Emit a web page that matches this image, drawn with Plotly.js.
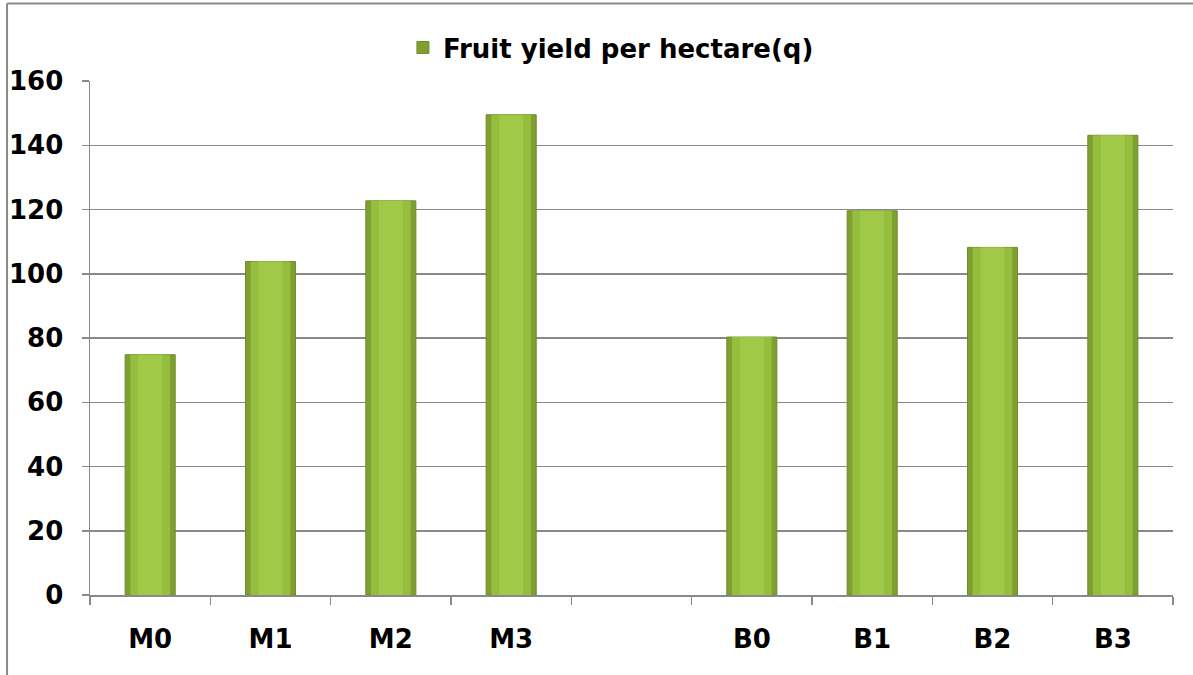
<!DOCTYPE html>
<html>
<head>
<meta charset="utf-8">
<script src="https://cdn.plot.ly/plotly-3.0.1.min.js"></script>
<style>html,body{margin:0;padding:0;background:#fff;}#chart{width:1193px;height:675px;}</style>
</head>
<body>
<div id="chart"></div>
<script>
var categories = ['M0', 'M1', 'M2', 'M3', ' ', 'B0', 'B1', 'B2', 'B3'];
var fruitYield = [74.8, 103.8, 122.7, 149.5, null, 80.3, 119.6, 108.2, 143.1];
var seriesName = 'Fruit yield per hectare(q)';
var yTicks = [0, 20, 40, 60, 80, 100, 120, 140, 160];

var FONT = 'DejaVu Sans, Liberation Sans, Arial, sans-serif';

var base = {
  type: 'bar', x: categories, y: fruitYield, name: seriesName,
  width: 0.416,
  marker: {color: '#7f9f31', line: {color: '#6f8c2b', width: 1}},
  hoverinfo: 'x+y', showlegend: true
};
var mid = {
  type: 'bar', x: categories, y: fruitYield, width: 0.33,
  marker: {color: '#95bd3e', line: {width: 0}},
  hoverinfo: 'skip', showlegend: false
};
var inner = {
  type: 'bar', x: categories, y: fruitYield, width: 0.2,
  marker: {color: '#9fc947', line: {width: 0}},
  hoverinfo: 'skip', showlegend: false
};

var layout = {
  width: 1193, height: 675,
  margin: {l: 90, r: 20, t: 81, b: 80},
  paper_bgcolor: '#ffffff', plot_bgcolor: '#ffffff',
  barmode: 'overlay',
  showlegend: true,
  legend: {
    orientation: 'h', x: 0.481, xanchor: 'center', y: 1.065, yanchor: 'middle',
    font: {family: FONT, size: 26, color: '#000000', weight: 'bold'},
    bgcolor: 'rgba(0,0,0,0)', itemwidth: 30
  },
  xaxis: {
    type: 'category', categoryorder: 'array', categoryarray: categories,
    tickson: 'boundaries', ticks: 'outside', ticklen: 8, tickwidth: 1.5, tickcolor: '#898989',
    showline: true, linecolor: '#898989', linewidth: 1.5,
    showgrid: false, zeroline: false,
    tickfont: {family: FONT, size: 26, color: '#000000', weight: 'bold'},
    ticklabelstandoff: 20
  },
  yaxis: {
    range: [0, 160], tickvals: yTicks, ticktext: yTicks.map(String),
    ticks: 'outside', ticklen: 7, tickwidth: 1.5, tickcolor: '#898989',
    showline: true, linecolor: '#898989', linewidth: 1.5,
    showgrid: true, gridcolor: '#898989', gridwidth: 1.5, zeroline: false,
    tickfont: {family: FONT, size: 26, color: '#000000', weight: 'bold'},
    ticklabelstandoff: 13
  },
  shapes: [
    {type: 'line', xref: 'paper', yref: 'paper', x0: -0.0766, x1: -0.0766, y0: -0.2, y1: 1.151,
     line: {color: '#898989', width: 2}, layer: 'below'},
    {type: 'line', xref: 'paper', yref: 'paper', x0: -0.0766, x1: 1.1, y0: 1.151, y1: 1.151,
     line: {color: '#898989', width: 2}, layer: 'below'}
  ]
};

Plotly.newPlot('chart', [base, mid, inner], layout, {displayModeBar: false, staticPlot: true});
</script>
</body>
</html>
